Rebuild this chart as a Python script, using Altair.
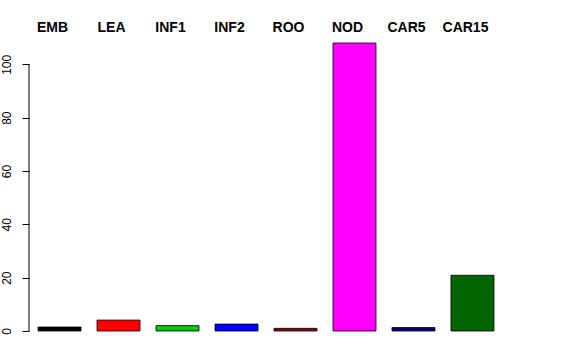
import altair as alt
import pandas as pd

categories = ["EMB", "LEA", "INF1", "INF2", "ROO", "NOD", "CAR5", "CAR15"]
values = [1.5, 4.1, 2.0, 2.6, 1.0, 108.0, 1.3, 20.9]
colors = ["#000000", "#FF0000", "#00CD00", "#0000FF", "#8B0000", "#FF00FF", "#000080", "#006400"]
y_ticks = [0, 20, 40, 60, 80, 100]

df = pd.DataFrame({"cat": categories, "value": values, "color": colors})

xscale = alt.Scale(domain=categories, paddingInner=0.271, paddingOuter=0.153)
yscale = alt.Scale(domain=[0, 108], nice=False, zero=True)

bars = alt.Chart(df).mark_bar(stroke="#000000", strokeWidth=1, strokeOpacity=0.8).encode(
    x=alt.X("cat:N", scale=xscale, axis=None, sort=categories),
    y=alt.Y("value:Q", scale=yscale,
            axis=alt.Axis(values=y_ticks, title=None, domain=False, grid=False,
                          labelAngle=-90, labelAlign="center", labelBaseline="bottom",
                          labelPadding=9, tickSize=7, tickColor="#000000",
                          labelColor="#000000", labelFont="Liberation Sans",
                          labelFontSize=12)),
    color=alt.Color("color:N", scale=None),
)

labels = alt.Chart(df).mark_text(
    font="Liberation Sans", fontWeight="bold", fontSize=14, dx=-7,
    baseline="middle", align="center", color="#000000"
).encode(
    x=alt.X("cat:N", scale=xscale, axis=None, sort=categories),
    y=alt.value(-15),
    text="cat:N",
)

axis_line = alt.Chart(pd.DataFrame({"lo": [y_ticks[0]], "hi": [y_ticks[-1]]})).mark_rule(
    color="#000000", strokeWidth=1
).encode(
    x=alt.value(0),
    y=alt.Y("lo:Q", scale=yscale),
    y2="hi:Q",
)

chart = alt.layer(bars, labels, axis_line).properties(
    width=474, height=288,
    background="#FFFFFF",
    autosize=alt.AutoSizeParams(type="none"),
    padding={"left": 29, "top": 43, "right": 73, "bottom": 29},
).configure_view(strokeWidth=0, stroke=None)

chart.save("out.html", embed_options={"renderer": "svg", "actions": False})
